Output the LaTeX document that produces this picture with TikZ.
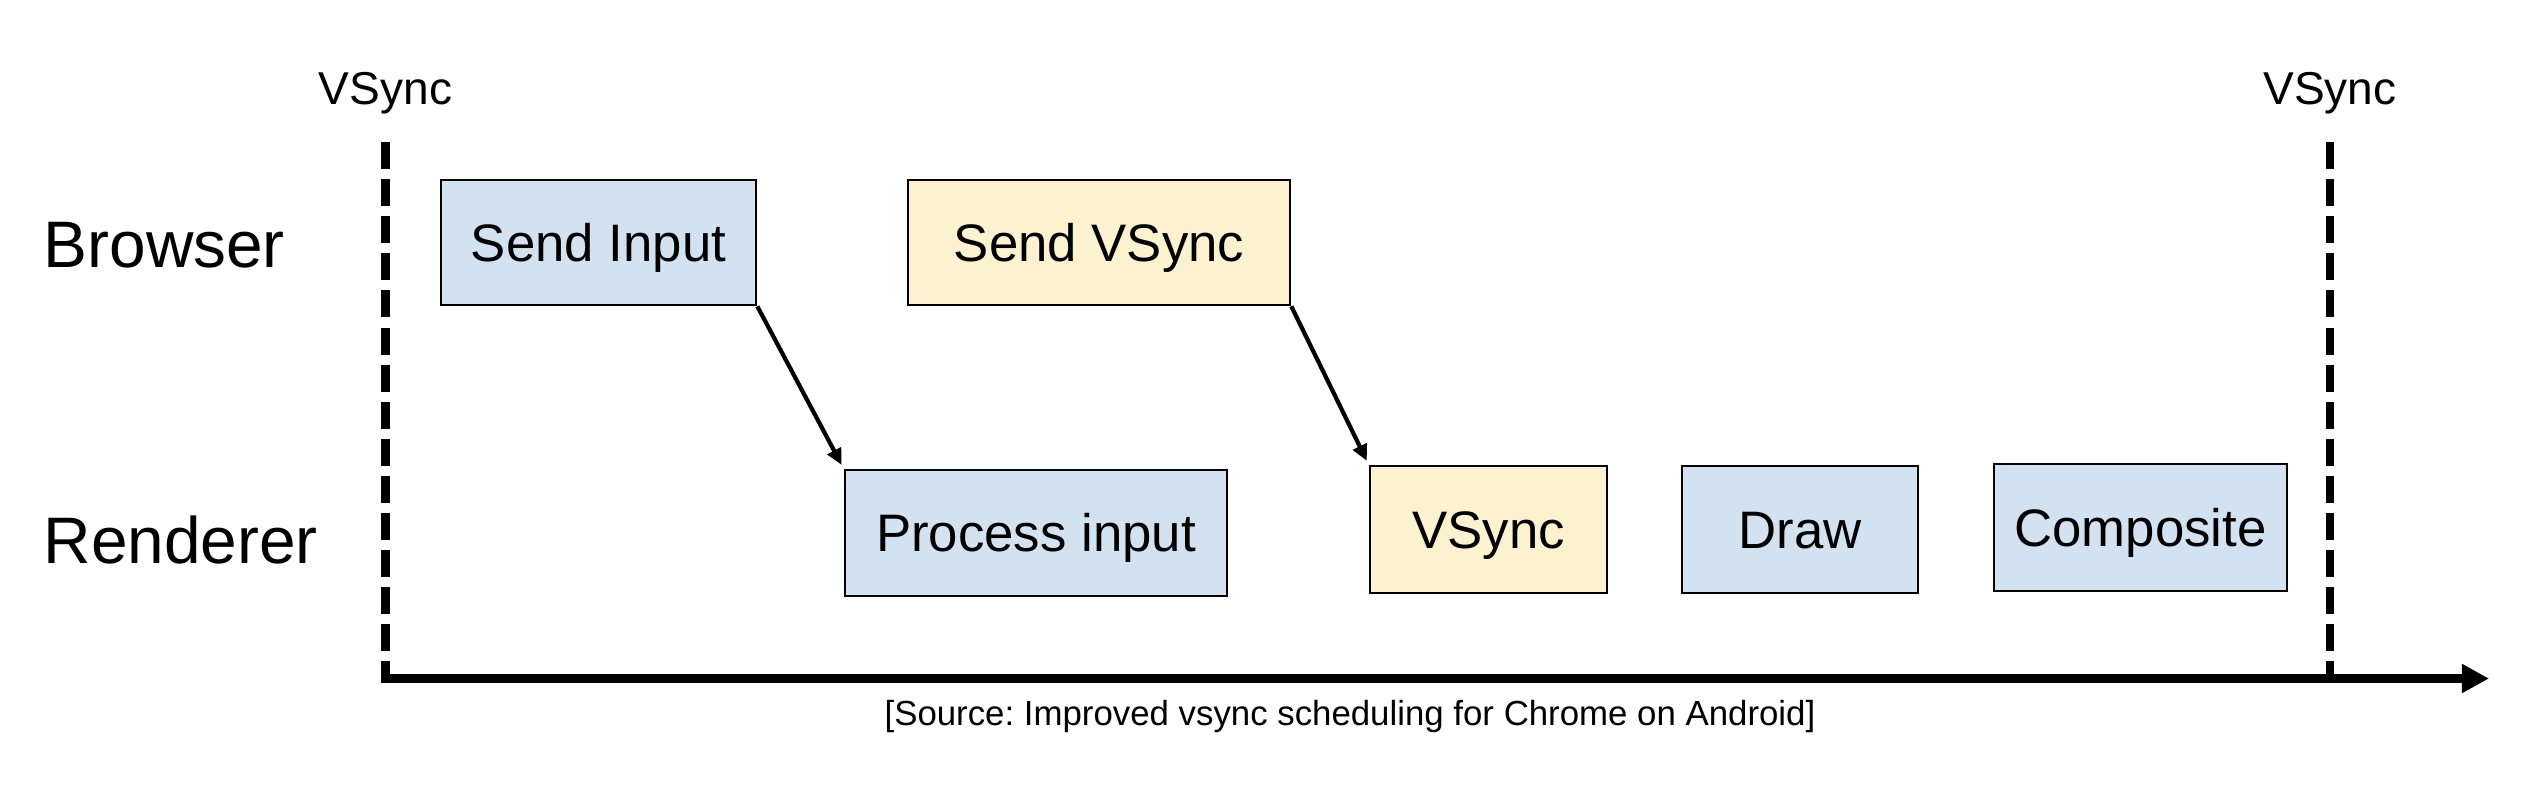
\documentclass[tikz,border=0pt]{standalone}
\usepackage{fontspec}
\setmainfont{Liberation Sans}
\usetikzlibrary{arrows.meta}
\definecolor{bluefill}{HTML}{D2E2F1}
\definecolor{yellowfill}{HTML}{FDF2D0}
\frenchspacing
\begin{document}
\begin{tikzpicture}[x=0.01cm,y=-0.01cm,
  taskbox/.style 2 args={draw=black, line width=0.75pt, rectangle, inner sep=0pt,
    minimum width={#1*0.01cm}, minimum height={#2*0.01cm},
    font=\fontsize{15}{18}\selectfont, text height=10.7pt, text depth=0pt},
  bluebox/.style={fill=bluefill},
  yellowbox/.style={fill=yellowfill},
  rowlabel/.style={anchor=base west, inner sep=0pt, font=\fontsize{18.7}{22}\selectfont},
  vlabel/.style={anchor=base, inner sep=0pt, font=\fontsize{13.1}{16}\selectfont},
  srclabel/.style={anchor=base, inner sep=0pt, font=\fontsize{9.9}{12}\selectfont},
  vline/.style={line width=2.5pt, dash pattern=on 7.7pt off 2.85pt},
  axisline/.style={line width=2.55pt, -{Triangle[length=7.7pt,width=7.8pt]}},
  flowarrow/.style={line width=1.2pt, -{Triangle[length=4.6pt,width=4.2pt]}, shorten >=1.2pt}
]
\useasboundingbox (0,0) rectangle (2538,784);

% row labels
\node[rowlabel] (browser) at (43,267) {Browser};
\node[rowlabel] (renderer) at (43,563) {Renderer};

% vsync labels
\node[vlabel] (vs1) at (385.5,104) {VSync};
\node[vlabel] (vs2) at (2330,104) {VSync};

% dashed vsync lines
\coordinate (v1t) at (385.5,142);
\coordinate (v1b) at (385.5,677);
\coordinate (v2t) at (2330,142);
\coordinate (v2b) at (2330,677);
\draw[vline] (v1t) -- (v1b);
\draw[vline] (v2t) -- (v2b);

% time axis
\coordinate (axs) at (381,678.5);
\coordinate (axe) at (2489,678.5);
\draw[axisline] (axs) -- (axe);

% boxes
\node[taskbox={315}{125}, bluebox] (sendinput) at (598.5,242.5) {Send Input};
\node[taskbox={382}{125}, yellowbox] (sendvsync) at (1099,242.5) {Send VSync};
\node[taskbox={382}{126}, bluebox] (process) at (1036,533) {Process input};
\node[taskbox={237}{127}, yellowbox] (vsyncbox) at (1488.5,529.5) {VSync};
\node[taskbox={236}{127}, bluebox] (draw) at (1800,529.5) {Draw};
\node[taskbox={293}{127}, bluebox] (composite) at (2140.5,527.5) {Composite};

% arrows
\draw[flowarrow] (sendinput.south east) -- (process.north west);
\draw[flowarrow] (sendvsync.south east) -- (vsyncbox.north west);

% source
\node[srclabel] (source) at (1350,725) {[Source: Improved vsync scheduling for Chrome on Android]};
\end{tikzpicture}
\end{document}
